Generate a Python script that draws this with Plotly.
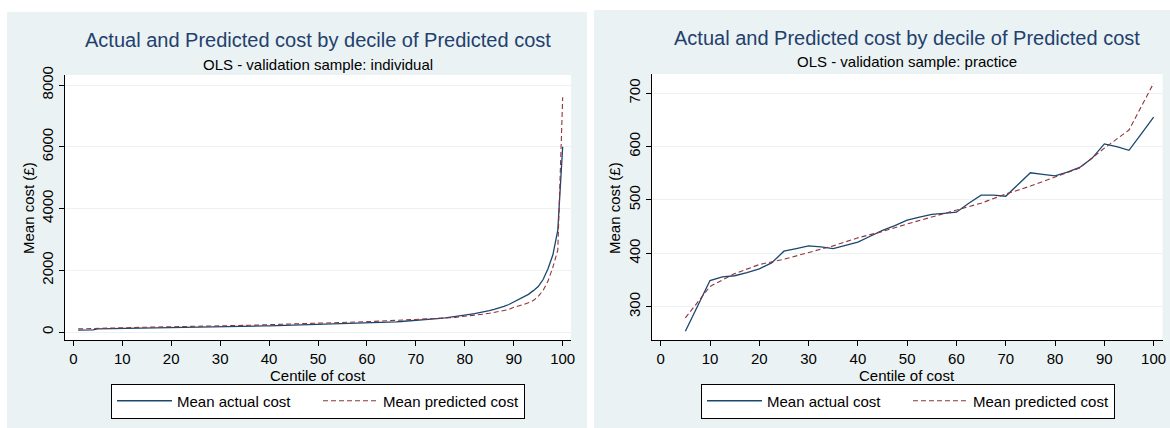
import plotly.graph_objects as go

# ---------------- data ----------------
centile = list(range(1, 101))
actual_ind = [60, 62, 65, 70, 100, 102, 104, 106, 108, 110,
              112, 114, 116, 118, 120, 122, 124, 126, 128, 130,
              135, 138, 140, 143, 145, 148, 150, 153, 155, 158,
              162, 166, 170, 175, 180, 184, 188, 192, 196, 200,
              204, 208, 212, 216, 220, 224, 228, 232, 236, 240,
              244, 248, 252, 257, 262, 267, 272, 278, 284, 290,
              296, 302, 308, 315, 322, 330, 340, 350, 362, 375,
              388, 400, 414, 428, 444, 460, 478, 497, 520, 550,
              570, 595, 620, 650, 690, 730, 775, 830, 890, 970,
              1040, 1120, 1220, 1340, 1470, 1700, 2050, 2500, 3300, 6000]
pred_ind = [100, 105, 108, 110, 125, 135, 138, 140, 142, 145,
            147, 149, 151, 153, 155, 157, 159, 161, 163, 165,
            168, 171, 174, 177, 180, 183, 186, 189, 192, 195,
            198, 202, 206, 210, 214, 218, 222, 226, 230, 235,
            240, 245, 250, 255, 260, 265, 270, 275, 280, 285,
            290, 295, 300, 305, 310, 315, 320, 325, 330, 335,
            340, 346, 352, 358, 364, 370, 376, 383, 390, 397,
            405, 413, 421, 430, 440, 450, 462, 475, 490, 505,
            522, 540, 560, 582, 606, 632, 660, 692, 728, 800,
            840, 890, 950, 1020, 1150, 1350, 1650, 2100, 2650, 7600]

centile_pr_act = [5, 10, 12.5, 15, 17.5, 20, 22.5, 25, 27.5, 30, 32.5, 35, 37.5,
                  40, 42.5, 45, 47.5, 50, 52.5, 55, 57.5, 60, 62.5, 65, 67.5,
                  70, 72.5, 75, 77.5, 80, 82.5, 85, 87.5, 90, 92.5, 95, 97.5, 100]
actual_pr = [254, 349, 356, 358, 364, 371, 382, 404, 409, 414, 412, 409, 415,
             421, 432, 443, 452, 462, 468, 473, 475, 477, 494, 509, 509,
             507, 529, 551, 548, 545, 552, 561, 578, 605, 600, 593, 624, 655]
centile_pr_pred = [5, 10, 15, 20, 25, 30, 35, 40, 45, 50,
                   55, 60, 65, 70, 75, 80, 85, 90, 95, 100]
pred_pr = [279, 338, 362, 379, 389, 401, 414, 429, 441, 455,
           468, 480, 494, 511, 526, 543, 560, 597, 631, 719]

x_ticks = [0, 10, 20, 30, 40, 50, 60, 70, 80, 90, 100]
y_ticks_ind = [0, 2000, 4000, 6000, 8000]
y_ticks_pr = [300, 400, 500, 600, 700]

title_txt = "Actual and Predicted cost by decile of Predicted cost"
sub_ind = "OLS - validation sample: individual"
sub_pr = "OLS - validation sample: practice"
x_title = "Centile of cost"
y_title = "Mean cost (£)"
lab_act = "Mean actual cost"
lab_pred = "Mean predicted cost"

# ---------------- style ----------------
W, H = 1170, 428
FONT = "Liberation Sans, Arial, sans-serif"
BLUE = "#1A476F"
RED = "#90353B"
PANEL = "#EAF2F3"
TITLE_C = "#22406E"


def px(x):
    return x / W


def py(y):
    return 1 - y / H


fig = go.Figure()

fig.add_trace(go.Scatter(x=centile, y=actual_ind, mode="lines", name=lab_act,
                         line=dict(color=BLUE, width=1.3), xaxis="x", yaxis="y",
                         legend="legend"))
fig.add_trace(go.Scatter(x=centile, y=pred_ind, mode="lines", name=lab_pred,
                         line=dict(color=RED, width=1.1, dash="5px,3px"),
                         xaxis="x", yaxis="y", legend="legend"))
fig.add_trace(go.Scatter(x=centile_pr_act, y=actual_pr, mode="lines", name=lab_act,
                         line=dict(color=BLUE, width=1.3), xaxis="x2", yaxis="y2",
                         legend="legend2"))
fig.add_trace(go.Scatter(x=centile_pr_pred, y=pred_pr, mode="lines", name=lab_pred,
                         line=dict(color=RED, width=1.1, dash="5px,3px"),
                         xaxis="x2", yaxis="y2", legend="legend2"))

axis_common = dict(showline=True, linecolor="#000000", linewidth=1,
                   ticks="outside", ticklen=5, tickcolor="#000000", tickwidth=1,
                   tickfont=dict(family=FONT, size=15, color="#000000"),
                   zeroline=False, mirror=False, automargin=False)

xa = dict(axis_common, tickvals=x_ticks, showgrid=False)
ya = dict(axis_common, showgrid=True, gridcolor=PANEL, gridwidth=1, tickangle=-90)

leg_common = dict(orientation="h", xanchor="center", yanchor="middle",
                  bgcolor="#FFFFFF", bordercolor="#000000", borderwidth=1,
                  font=dict(family=FONT, size=15, color="#000"),
                  itemwidth=55, entrywidth=136, entrywidthmode="pixels")

fig.update_layout(
    width=W, height=H,
    margin=dict(l=0, r=0, t=0, b=0, autoexpand=False),
    paper_bgcolor=PANEL,
    plot_bgcolor="#FFFFFF",
    font=dict(family=FONT, size=15, color="#000"),
    xaxis=dict(xa, domain=[px(65), px(571)], range=[-1.7, 101.7], anchor="y"),
    yaxis=dict(ya, domain=[py(340), py(75)], range=[-259, 8324], tickvals=y_ticks_ind,
               anchor="x"),
    xaxis2=dict(xa, domain=[px(651.7), px(1162.5)], range=[-1.83, 101.8], anchor="y2"),
    yaxis2=dict(ya, domain=[py(340), py(74)], range=[237.6, 736], tickvals=y_ticks_pr,
                anchor="x2"),
    legend=dict(leg_common, x=px(318), y=py(401)),
    legend2=dict(leg_common, x=px(908), y=py(401)),
    showlegend=True,
)

# white margins around the two grey panels
white_rects = [(0, 0, 7, H), (0, 0, W, 10), (0, 0, 587, 12), (587, 0, 594, H)]
for x0, y0, x1, y1 in white_rects:
    fig.add_shape(type="rect", xref="paper", yref="paper",
                  x0=px(x0), x1=px(x1), y0=py(y1), y1=py(y0),
                  fillcolor="#FFFFFF", line=dict(width=0), layer="below")

# titles and axis titles
for cx, ty, sy, sub, yx in [(318, 40, 64, sub_ind, 28), (907, 38, 62, sub_pr, 614)]:
    fig.add_annotation(text=title_txt, xref="paper", yref="paper", x=px(cx), y=py(ty),
                       xanchor="center", yanchor="middle", showarrow=False,
                       font=dict(family=FONT, size=20, color=TITLE_C))
    fig.add_annotation(text=sub, xref="paper", yref="paper", x=px(cx), y=py(sy),
                       xanchor="center", yanchor="middle", showarrow=False,
                       font=dict(family=FONT, size=15, color="#000"))
    fig.add_annotation(text=x_title, xref="paper", yref="paper", x=px(cx), y=py(375),
                       xanchor="center", yanchor="middle", showarrow=False,
                       font=dict(family=FONT, size=15, color="#000"))
    fig.add_annotation(text=y_title, xref="paper", yref="paper", x=px(yx), y=py(208),
                       xanchor="center", yanchor="middle", showarrow=False,
                       textangle=-90, font=dict(family=FONT, size=15, color="#000"))

fig.write_html(
    "out.html",
    config={"displayModeBar": False},
    post_script="document.body.style.margin='0';document.body.style.padding='0';"
                "document.documentElement.style.overflow='hidden';",
)
